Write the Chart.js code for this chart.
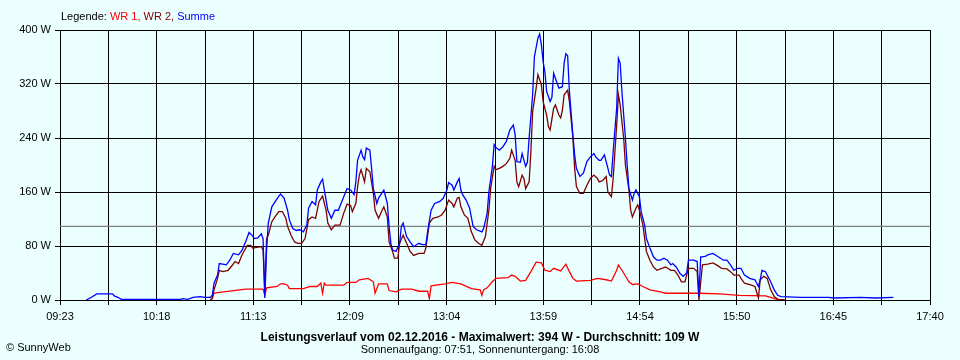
<!DOCTYPE html>
<html>
<head>
<meta charset="utf-8">
<script src="https://cdn.jsdelivr.net/npm/chart.js@4/dist/chart.umd.min.js"></script>
<style>
  html, body { margin:0; padding:0; background:#EBFFFF; }
  canvas { display:block; }
</style>
</head>
<body>
<canvas id="chart" width="960" height="360"></canvas>
<script>
// ===== Daten =====
const xTickLabels = ["09:23","10:18","11:13","12:09","13:04","13:59","14:54","15:50","16:45","17:40"];
const yTicks = [0, 80, 160, 240, 320, 400];
const avgWatts = 109;

const wr1Times = ["10:49","10:50","10:51","10:53","11:00","11:09","11:19","11:20","11:21","11:27","11:29","11:31","11:33","11:34","11:42","11:46","11:50","11:52","11:53","11:54","11:55","12:05","12:07","12:12","12:14","12:19","12:22","12:23","12:25","12:30","12:31","12:35","12:38","12:44","12:48","12:53","12:54","12:55","13:03","13:07","13:12","13:18","13:23","13:24","13:25","13:27","13:30","13:32","13:39","13:41","13:43","13:46","13:49","13:52","13:55","13:58","14:00","14:03","14:05","14:09","14:12","14:14","14:16","14:18","14:26","14:30","14:35","14:38","14:41","14:42","14:45","14:48","14:50","14:53","14:56","15:00","15:06","15:09","15:28","15:40","15:51","16:06","16:09","16:11","16:15","16:17"];
const wr1Watts = [0,2,10,11,13,16,16,7,18,20,24,24,22,17,17,20,20,25,10,25,22,22,26,26,30,32,27,10,24,24,14,12,16,16,13,13,2,21,24,26,24,17,15,7,15,18,27,32,33,37,35,28,29,42,56,55,44,42,47,43,53,42,32,28,29,32,30,28,44,52,40,27,23,24,20,15,12,10,10,9,7,6,4,2,0,0];

const wr2Times = ["10:49","10:50","10:51","10:53","10:54","10:56","10:59","11:01","11:03","11:05","11:07","11:10","11:12","11:13","11:18","11:19","11:20","11:21","11:22","11:24","11:26","11:28","11:30","11:32","11:33","11:35","11:37","11:39","11:41","11:43","11:45","11:47","11:49","11:51","11:53","11:55","11:56","11:58","12:00","12:03","12:05","12:07","12:09","12:10","12:12","12:13","12:14","12:15","12:17","12:18","12:20","12:22","12:23","12:25","12:27","12:28","12:30","12:31","12:33","12:34","12:36","12:37","12:39","12:41","12:43","12:45","12:48","12:51","12:52","12:54","12:56","12:59","13:01","13:03","13:05","13:07","13:08","13:10","13:11","13:12","13:14","13:16","13:18","13:20","13:22","13:24","13:26","13:28","13:29","13:31","13:32","13:34","13:36","13:38","13:40","13:41","13:43","13:44","13:45","13:47","13:48","13:49","13:51","13:52","13:53","13:55","13:56","13:58","13:59","14:01","14:02","14:03","14:05","14:06","14:08","14:09","14:10","14:11","14:13","14:14","14:16","14:17","14:18","14:20","14:22","14:24","14:26","14:28","14:30","14:31","14:33","14:35","14:36","14:38","14:39","14:41","14:42","14:43","14:45","14:46","14:48","14:49","14:50","14:52","14:53","14:54","14:56","14:57","14:58","15:00","15:02","15:04","15:06","15:09","15:12","15:14","15:16","15:18","15:20","15:22","15:25","15:27","15:28","15:30","15:33","15:36","15:38","15:41","15:44","15:46","15:48","15:51","15:52","15:54","15:58","16:00","16:02","16:03","16:05","16:07","16:09","16:11","16:13","16:17"];
const wr2Watts = [0,3,15,32,44,42,44,50,57,54,67,81,81,77,79,74,12,91,96,116,124,131,131,121,109,96,86,84,84,91,119,123,121,146,154,133,114,104,111,111,128,142,140,131,143,168,185,193,175,195,190,158,133,121,133,138,123,86,72,62,62,84,96,84,72,66,69,69,77,114,121,123,126,133,148,143,138,151,152,138,126,121,101,89,84,81,94,133,165,198,193,195,198,202,210,222,207,175,168,185,180,165,175,220,279,314,334,319,294,274,257,252,284,289,274,270,281,304,311,294,240,195,168,158,158,170,180,185,180,175,177,183,160,153,180,259,304,289,240,200,163,133,123,136,141,133,111,91,72,59,49,44,46,49,44,44,37,27,27,47,47,42,0,52,53,55,52,47,46,42,37,37,32,25,22,20,3,30,35,32,15,5,1,0];

const sumTimes = ["09:38","09:41","09:44","09:49","09:53","09:54","09:56","09:58","10:09","10:20","10:32","10:33","10:36","10:39","10:43","10:46","10:49","10:50","10:51","10:53","10:54","10:56","10:58","11:00","11:02","11:05","11:07","11:09","11:11","11:13","11:14","11:16","11:18","11:19","11:20","11:21","11:22","11:24","11:26","11:28","11:29","11:31","11:33","11:34","11:36","11:38","11:40","11:42","11:44","11:45","11:47","11:49","11:50","11:52","11:53","11:54","11:56","11:58","12:00","12:02","12:04","12:07","12:09","12:11","12:12","12:13","12:15","12:16","12:17","12:18","12:20","12:21","12:22","12:24","12:25","12:28","12:30","12:31","12:32","12:33","12:35","12:37","12:38","12:39","12:41","12:43","12:45","12:48","12:50","12:52","12:53","12:55","12:57","13:00","13:02","13:04","13:05","13:07","13:08","13:10","13:11","13:12","13:13","13:15","13:17","13:19","13:21","13:24","13:25","13:27","13:28","13:30","13:31","13:32","13:34","13:36","13:38","13:40","13:42","13:43","13:44","13:46","13:47","13:49","13:50","13:51","13:53","13:54","13:56","13:57","13:58","13:59","14:00","14:01","14:03","14:04","14:05","14:07","14:08","14:10","14:11","14:12","14:13","14:14","14:16","14:17","14:18","14:20","14:22","14:24","14:26","14:28","14:29","14:31","14:32","14:34","14:35","14:37","14:38","14:39","14:41","14:42","14:43","14:44","14:46","14:47","14:48","14:50","14:51","14:52","14:54","14:55","14:57","14:58","15:00","15:02","15:04","15:06","15:08","15:10","15:12","15:13","15:15","15:17","15:19","15:21","15:22","15:25","15:27","15:28","15:29","15:30","15:32","15:33","15:36","15:39","15:42","15:44","15:46","15:48","15:50","15:52","15:54","15:57","16:00","16:02","16:03","16:04","16:06","16:07","16:09","16:11","16:13","16:15","16:26","16:42","16:45","17:00","17:09","17:19"];
const sumWatts = [0,4,9,9,9,6,4,1,1,1,1,2,1,4,5,4,4,7,25,37,54,53,52,59,69,67,74,86,100,95,91,92,98,91,3,74,114,138,146,154,157,151,133,119,106,103,104,101,111,136,146,141,163,175,179,163,133,121,133,133,146,165,163,156,175,207,222,212,208,225,222,195,165,143,151,163,143,109,84,74,72,84,109,114,94,86,79,84,82,82,101,133,143,146,151,163,174,170,163,175,180,163,156,148,136,109,104,101,106,128,160,198,230,226,222,227,235,252,259,245,205,204,217,198,204,240,304,360,388,394,378,353,338,309,294,300,336,321,314,316,351,365,362,309,244,215,195,183,188,205,212,217,212,207,207,215,205,185,183,220,284,358,351,309,240,200,165,148,158,163,153,131,111,91,77,64,59,59,62,59,52,54,49,40,35,40,59,59,57,5,64,64,65,67,69,64,59,59,52,44,47,47,37,32,30,20,30,44,42,37,27,15,7,5,4,4,3,4,3,4];

// ===== Hilfsfunktionen =====
function toMin(t){ const p=t.split(":"); return parseInt(p[0])*60+parseInt(p[1]); }
function pts(times, vals){ return times.map((t,i)=>({x:toMin(t), y:vals[i]})); }

const xMin = toMin(xTickLabels[0]);
const xMax = toMin(xTickLabels[xTickLabels.length-1]);
const gridSteps = (xTickLabels.length-1)*2;

// ===== Texte =====
const font = '"Liberation Sans", Arial, sans-serif';
const legendParts = [["Legende: ","#000000"],["WR 1, ","#FF0000"],["WR 2, ","#800000"],["Summe","#0000FF"]];
const textPlugin = {
  id:"texts",
  afterDraw(chart){
    const ctx=chart.ctx;
    ctx.save();
    ctx.textBaseline="middle";
    ctx.font="11px "+font;
    let x=61;
    legendParts.forEach(p=>{ ctx.fillStyle=p[1]; ctx.fillText(p[0],x,17); x+=ctx.measureText(p[0]).width; });
    ctx.fillStyle="#000";
    ctx.fillText("\u00A9 SunnyWeb",6,348);
    ctx.textAlign="center";
    ctx.font="bold 12px "+font;
    ctx.fillText("Leistungsverlauf vom 02.12.2016 - Maximalwert: 394 W - Durchschnitt: 109 W",480,338);
    ctx.font="11px "+font;
    ctx.fillText("Sonnenaufgang: 07:51, Sonnenuntergang: 16:08",480,350);
    ctx.restore();
  }
};

const line = (label, data, color) => ({
  label, data, borderColor:color, backgroundColor:color,
  borderWidth:1.3, pointRadius:0, tension:0, fill:false
});

new Chart(document.getElementById("chart"),{
  type:"line",
  data:{datasets:[
    line("Summe", pts(sumTimes,sumWatts), "#0000FF"),
    line("WR 2", pts(wr2Times,wr2Watts), "#800000"),
    line("WR 1", pts(wr1Times,wr1Watts), "#FF0000"),
    line("Durchschnitt", [{x:xMin,y:avgWatts},{x:xMax,y:avgWatts}], "#808080")
  ]},
  options:{
    responsive:false, animation:false, devicePixelRatio:1,
    layout:{padding:{top:30,right:30,left:0,bottom:0}},
    plugins:{legend:{display:false}, tooltip:{enabled:false}},
    scales:{
      x:{
        type:"linear", min:xMin, max:xMax,
        afterFit:s=>{ s.height=60; },
        afterBuildTicks:s=>{
          s.ticks=[];
          for(let i=0;i<=gridSteps;i++) s.ticks.push({value:xMin+i*(xMax-xMin)/gridSteps});
        },
        grid:{color:"#000", lineWidth:1, tickLength:5, tickColor:"#000"},
        border:{color:"#000"},
        ticks:{
          color:"#000", font:{family:font,size:11}, padding:5, maxRotation:0, autoSkip:false,
          callback:(v,i)=> i%2===0 ? xTickLabels[i/2] : ""
        }
      },
      y:{
        min:yTicks[0], max:yTicks[yTicks.length-1],
        afterFit:s=>{ s.width=60; },
        afterBuildTicks:s=>{ s.ticks=yTicks.map(v=>({value:v})); },
        grid:{color:"#000", lineWidth:1, tickLength:5, tickColor:"#000"},
        border:{color:"#000"},
        ticks:{color:"#000", font:{family:font,size:11}, padding:4, callback:v=>v+" W"}
      }
    }
  },
  plugins:[textPlugin]
});
</script>
</body>
</html>
